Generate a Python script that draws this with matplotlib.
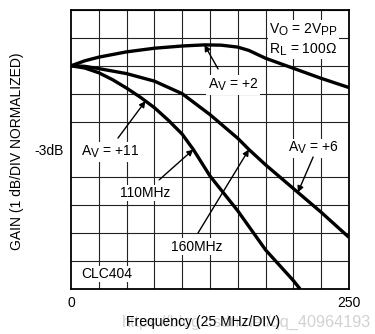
import numpy as np
import matplotlib
matplotlib.use("Agg")
import matplotlib.pyplot as plt
import matplotlib._mathtext as mt

plt.rcParams['font.family'] = ['Liberation Sans', 'DejaVu Sans']
plt.rcParams['mathtext.default'] = 'regular'
# bigger subscripts, closer to datasheet lettering
mt.SHRINK_FACTOR = 0.85

# frequency response, normalized gain in dB, frequency in MHz
freq_av2 = [0, 12.5, 25, 50, 75, 100, 120, 135, 150, 160, 175, 200, 225, 250]
gain_av2 = [0, 0.18, 0.31, 0.5, 0.63, 0.71, 0.75, 0.74, 0.67, 0.55, 0.27, -0.09, -0.45, -0.78]

freq_av6 = [0, 12.5, 25, 50, 75, 100, 125, 150, 160, 175, 200, 225, 250]
gain_av6 = [0, -0.02, -0.1, -0.28, -0.55, -1.0, -1.75, -2.6, -3.0, -3.55, -4.4, -5.25, -6.15]

freq_av11 = [0, 12.5, 25, 37.5, 50, 62.5, 75, 87.5, 100, 110, 125, 150, 175, 200, 206]
gain_av11 = [0, -0.08, -0.25, -0.5, -0.8, -1.13, -1.5, -1.95, -2.45, -3.0, -3.95, -5.2, -6.6, -7.7, -8.0]

bw_av11 = 110
bw_av6 = 160

fig = plt.figure(figsize=(3.75, 3.34), dpi=100)
ax = fig.add_axes([71 / 375, 45 / 334, 278 / 375, 279 / 334])

ax.set_xlim(0, 250)
ax.set_ylim(-8, 2)
ax.set_xticks(np.arange(0, 251, 25), minor=True)
ax.set_yticks(np.arange(-8, 2.1, 1), minor=True)
ax.set_xticks([0, 250])
ax.set_xticklabels(['0', '250'], fontsize=10)
ax.set_yticks([-3])
ax.set_yticklabels(['-3dB'], fontsize=10)
ax.tick_params(which='both', length=0)
ax.tick_params(axis='x', pad=5)
ax.tick_params(axis='y', pad=5)
ax.grid(which='minor', color='#222222', lw=0.8)
for s in ax.spines.values():
    s.set_linewidth(1.3)

for xs, ys in [(freq_av2, gain_av2), (freq_av6, gain_av6), (freq_av11, gain_av11)]:
    ax.plot(xs, ys, color='black', lw=2.4, zorder=4, solid_capstyle='butt',
            solid_joinstyle='round')

box = dict(facecolor='white', edgecolor='none', pad=1.0)
tkw = dict(transform=ax.transAxes, fontsize=10, zorder=3, bbox=box)

ax.text(0.712, 0.928, '$V_O$ = 2$V_{PP}$', ha='left', va='center', **tkw)
ax.text(0.712, 0.858, '$R_L$ = 100Ω', ha='left', va='center', **tkw)
ax.text(0.583, 0.731, '$A_V$ = +2', ha='center', va='center', **tkw)
ax.text(0.14, 0.491, '$A_V$ = +11', ha='center', va='center', **tkw)
ax.text(0.266, 0.344, '110MHz', ha='center', va='center', **tkw)
ax.text(0.453, 0.151, '160MHz', ha='center', va='center', **tkw)
ax.text(0.871, 0.505, '$A_V$ = +6', ha='center', va='center', **tkw)
ax.text(0.036, 0.054, 'CLC404', ha='left', va='center', **tkw)

arrow = dict(arrowstyle='-|>', color='black', lw=1.0, mutation_scale=9,
             shrinkA=0, shrinkB=0)

def point_to(fq, xs, ys, start):
    ax.annotate('', xy=(fq, np.interp(fq, xs, ys)), xycoords='data',
                xytext=start, textcoords='axes fraction',
                arrowprops=arrow, zorder=5)

point_to(120, freq_av2, gain_av2, (0.529, 0.789))
point_to(67, freq_av11, gain_av11, (0.169, 0.541))
point_to(bw_av11, freq_av11, gain_av11, (0.317, 0.391))
point_to(bw_av6, freq_av6, gain_av6, (0.457, 0.201))
point_to(204, freq_av6, gain_av6, (0.871, 0.473))

fig.text(17 / 375, 1 - 151 / 334, 'GAIN (1 dB/DIV NORMALIZED)', rotation=90,
         ha='center', va='center', fontsize=10)
fig.text(122 / 375, 1 - 322 / 334, 'https://blog.csdn.net/qq_40964193',
         ha='left', va='center', fontsize=11.7, color='#d2d2d2', zorder=0)
fig.text(203 / 375, 1 - 322 / 334, 'Frequency (25 MHz/DIV)',
         ha='center', va='center', fontsize=10, zorder=2)

fig.savefig('out.png', dpi=100)
